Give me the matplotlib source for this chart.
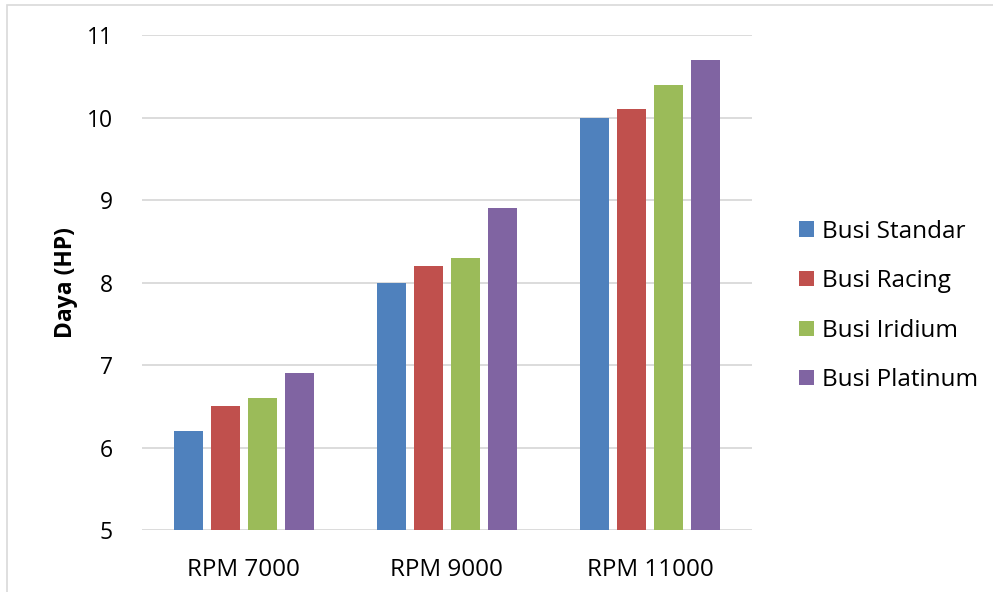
import numpy as np
import matplotlib.pyplot as plt
from matplotlib.patches import Rectangle

plt.rcParams['font.family'] = ['Open Sans', 'DejaVu Sans']

kategori = ["RPM 7000", "RPM 9000", "RPM 11000"]
seri = ["Busi Standar", "Busi Racing", "Busi Iridium", "Busi Platinum"]
standar = [6.2, 8.0, 10.0]
racing = [6.5, 8.2, 10.1]
iridium = [6.6, 8.3, 10.4]
platinum = [6.9, 8.9, 10.7]
warna = ["#4F81BD", "#C0504D", "#9BBB59", "#8064A2"]

fig = plt.figure(figsize=(9.93, 5.92), dpi=100)
ax = fig.add_axes([0.143, 0.1047, 0.614, 0.836])

x = np.arange(len(kategori))
lebar = 0.143
langkah = 0.182
for i, (nama, nilai) in enumerate(zip(seri, [standar, racing, iridium, platinum])):
    ax.bar(x + (i - 1.5) * langkah, np.array(nilai) - 5, bottom=5, width=lebar,
           color=warna[i], label=nama, zorder=3)

ax.set_xlim(-0.5, 2.5)
ax.set_ylim(5, 11)
ax.set_xticks(x)
ax.set_xticklabels(kategori, fontsize=17.5)
ax.set_yticks(range(5, 12))
ax.tick_params(axis='y', labelsize=16.5, length=0, pad=21)
ax.tick_params(axis='x', length=0, pad=20)
ax.grid(axis='y', color='#d9d9d9', linewidth=1.3, zorder=0)
for s in ax.spines.values():
    s.set_visible(False)
ax.set_ylabel("Daya (HP)", fontsize=16.5, fontweight='bold', labelpad=6)

fig.legend(loc='center left', bbox_to_anchor=(0.783, 0.483), frameon=False,
           fontsize=17.5, handlelength=0.6, handleheight=0.6, labelspacing=1.05,
           handletextpad=0.35)

# bingkai grafik
fig.patches.append(Rectangle((7 / 993, -0.01), 1.0, 1 - 5 / 592 + 0.01,
                             transform=fig.transFigure, fill=False,
                             edgecolor='#d9d9d9', linewidth=1.2))

fig.savefig("out.png", dpi=100)
